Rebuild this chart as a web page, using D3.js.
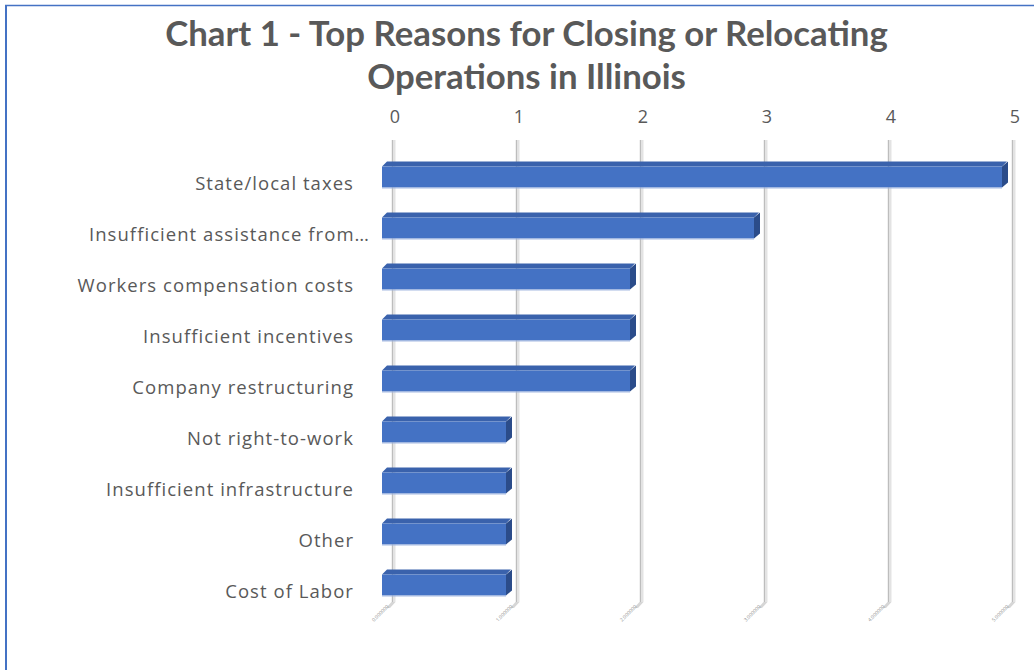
<!DOCTYPE html>
<html><head><meta charset="utf-8">
<script src="https://cdn.jsdelivr.net/npm/d3@7"></script>
<style>
html,body{margin:0;padding:0;background:#fff;}
svg{display:block;}
</style></head>
<body>
<svg id="chart" width="1034" height="670"></svg>
<script>
const titleLines = ["Chart 1 - Top Reasons for Closing or Relocating", "Operations in Illinois"];
const categories = ["State/local taxes","Insufficient assistance from\u2026","Workers compensation costs","Insufficient incentives","Company restructuring","Not right-to-work","Insufficient infrastructure","Other","Cost of Labor"];
const values = [5,3,2,2,2,1,1,1,1];
const tickValues = [0,1,2,3,4,5];
const floorLabels = ["0.000000","1.000000","2.000000","3.000000","4.000000","5.000000"];

const svg = d3.select("#chart");
const W = 1034, H = 670;
svg.append("rect").attr("width",W).attr("height",H).attr("fill","#fff");
// border
svg.append("line").attr("x1",5).attr("x2",1034).attr("y1",5.5).attr("y2",5.5).attr("stroke","#4472C4").attr("stroke-width",1.5);
svg.append("line").attr("x1",6).attr("x2",6).attr("y1",5).attr("y2",670).attr("stroke","#4472C4").attr("stroke-width",2);

// title
const tg = svg.append("g").attr("font-family","Lato, 'Open Sans', sans-serif").attr("font-weight","bold").attr("fill","#595959").attr("text-anchor","middle");
titleLines.forEach((t,i)=>{
  tg.append("text").attr("x",526.5).attr("y",[46,89][i]).attr("font-size",34).text(t);
});
const t0 = tg.select("text").node();
const w0 = t0.getComputedTextLength();
const fs = 34*723/w0;
tg.selectAll("text").attr("font-size",fs);

// scales
const x = d3.scaleLinear().domain([0,5]).range([382,1002]);
const backDx = 11;
const y = d3.scaleBand().domain(categories).range([151.5,610.5]).paddingInner(0.59).paddingOuter(0.295);
const depth = 5;
const gridTop = 140, gridBottom = 602;

// gridlines
const gg = svg.append("g");
tickValues.forEach((v,i)=>{
  const gx = x(v)+backDx;
  gg.append("rect").attr("x",gx-1.5).attr("y",gridTop).attr("width",4).attr("height",gridBottom-gridTop).attr("fill","#e3e3e3");
  gg.append("line").attr("x1",gx-0.5).attr("x2",gx-0.5).attr("y1",gridTop).attr("y2",gridBottom).attr("stroke","#bdbdbd").attr("stroke-width",1);
  gg.append("path").attr("d",`M${gx-1.5},${gridBottom} L${gx+2.5},${gridBottom} L${gx-3},${gridBottom+6} L${gx-7},${gridBottom+6}Z`).attr("fill","#d6d6d6");
  gg.append("text").attr("transform",`translate(${gx-4},${gridBottom+5}) rotate(-45)`)
    .attr("text-anchor","end").attr("font-size",5).attr("font-family","'Open Sans', sans-serif").attr("fill","#8c8c8c").text(floorLabels[i]);
});

// top axis labels
const ag = svg.append("g").attr("font-family","'Open Sans', sans-serif").attr("font-size",18).attr("fill","#595959").attr("text-anchor","middle");
tickValues.forEach(v=>{
  ag.append("text").attr("x",x(v)+backDx+2).attr("y",123).text(d3.format("d")(v));
});

// bars
const bg = svg.append("g");
categories.forEach((c,i)=>{
  const x0 = x(0), x1 = x(values[i]);
  const yt = y(c), h = y.bandwidth();
  bg.append("path").attr("d",`M${x0},${yt} L${x0+depth},${yt-depth} L${x1+depth},${yt-depth} L${x1},${yt}Z`).attr("fill","#3A62AC");
  bg.append("path").attr("d",`M${x1},${yt} L${x1+depth+1},${yt-depth} L${x1+depth+1},${yt+h-depth} L${x1},${yt+h}Z`).attr("fill","#2B4C8A");
  bg.append("rect").attr("x",x0).attr("y",yt).attr("width",x1-x0).attr("height",h).attr("fill","#4472C4");
  bg.append("line").attr("x1",x0).attr("x2",x1).attr("y1",yt+h+0.5).attr("y2",yt+h+0.5).attr("stroke","#9db3de").attr("stroke-width",1);
});

// category labels
const lg = svg.append("g").attr("font-family","'Open Sans', sans-serif").attr("font-size",18.5).attr("letter-spacing",1.05).attr("fill","#595959").attr("text-anchor","end");
categories.forEach((c,i)=>{
  const tx = c.endsWith("\u2026") ? 370 : 354;
  lg.append("text").attr("x",tx).attr("y",y(c)+y.bandwidth()/2+13).text(c);
});
</script>
</body></html>
